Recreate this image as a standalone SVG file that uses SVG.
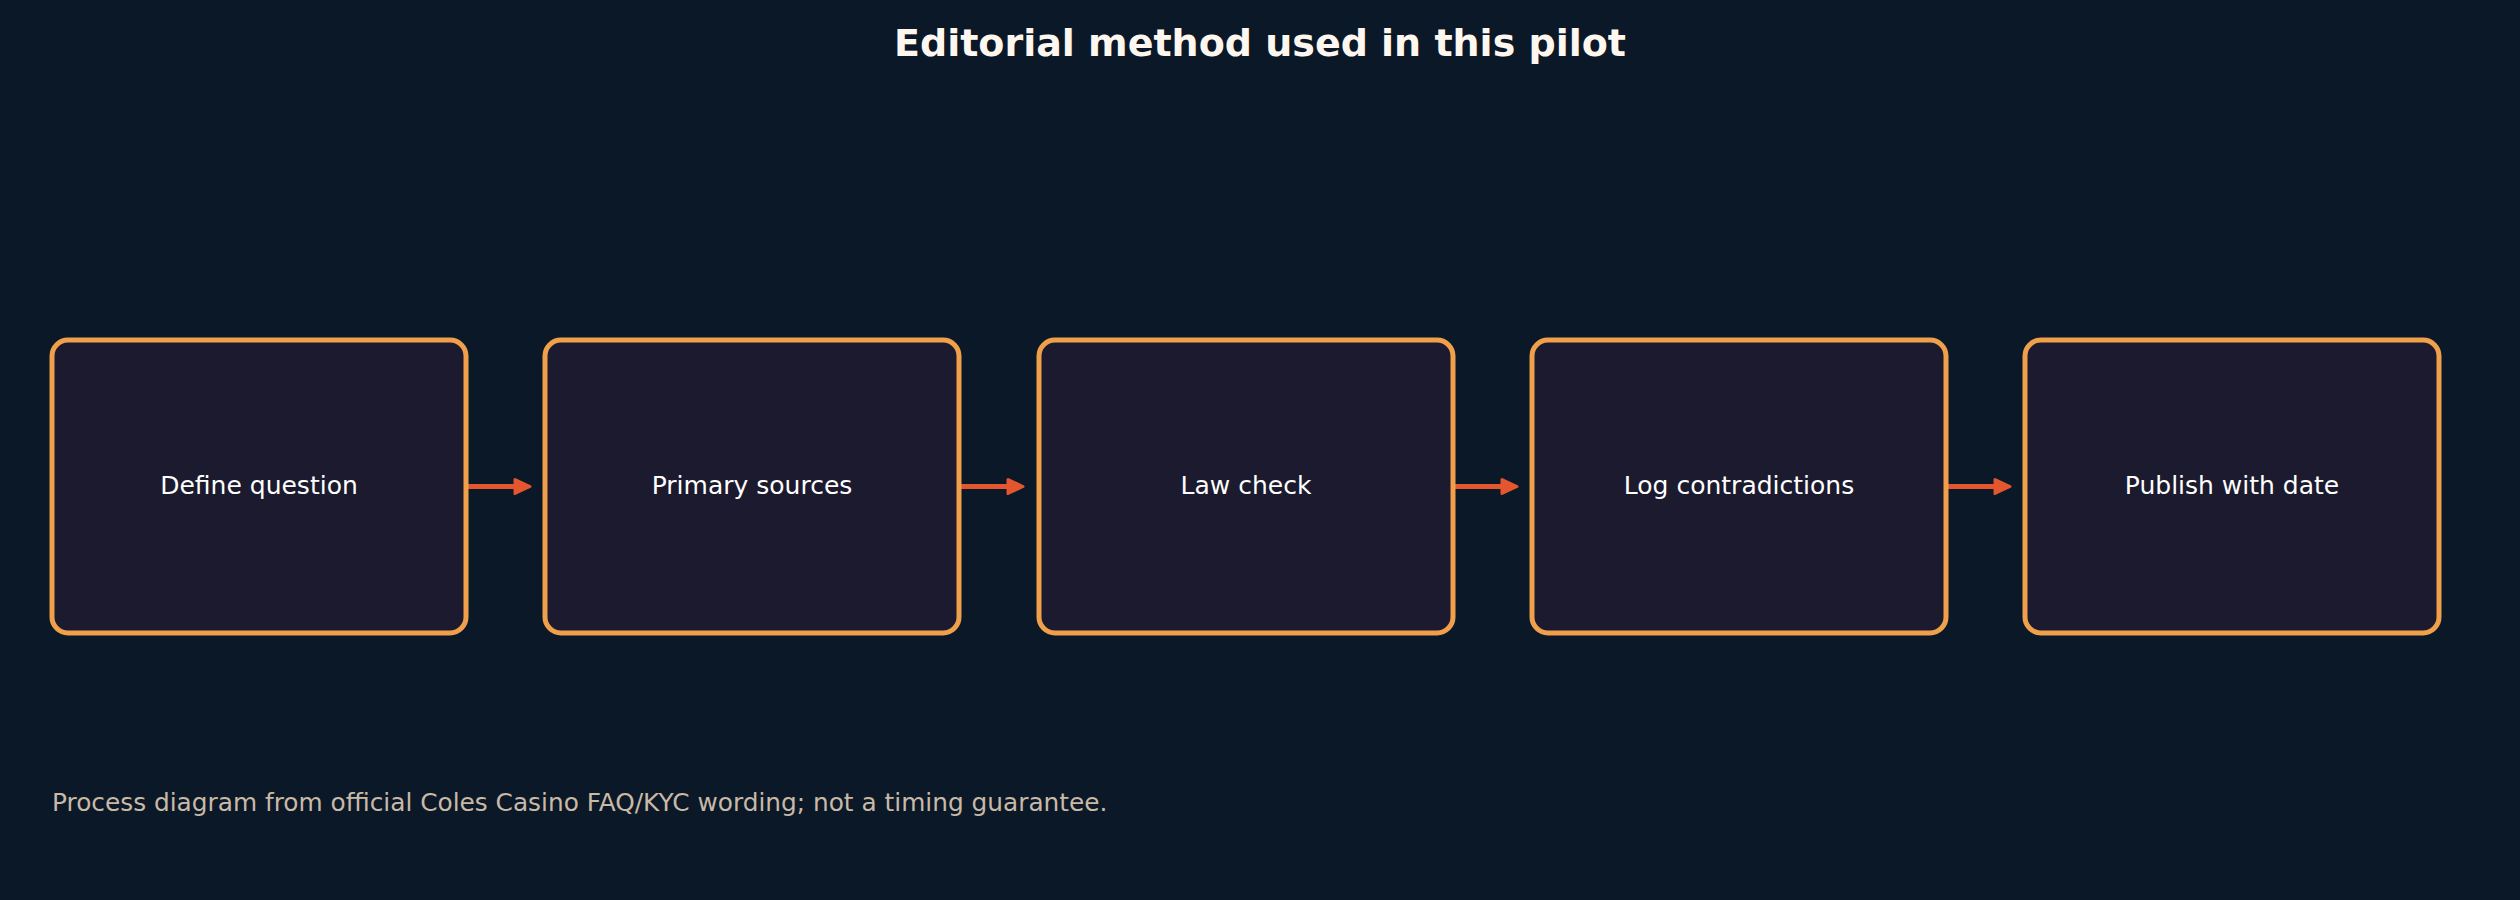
<svg xmlns="http://www.w3.org/2000/svg" width="2520" height="900" viewBox="0 0 2520 900">
<defs>
<style>
.bg{fill:#0b1828}
.box{fill:#1c1a2e;stroke:#f0a04b;stroke-width:5}
.lbl{font-family:"DejaVu Sans",sans-serif;font-size:25px;fill:#ffffff;text-anchor:middle}
.title{font-family:"DejaVu Sans",sans-serif;font-weight:bold;font-size:38px;fill:#fdf7ef;text-anchor:middle}
.note{font-family:"DejaVu Sans",sans-serif;font-size:24.8px;fill:#c9b9a7}
.conn{stroke:#e4572e;stroke-width:5;fill:none}
</style>
<marker id="ah" viewBox="-3 -10 22 20" refX="5" refY="0" markerWidth="22" markerHeight="20" markerUnits="userSpaceOnUse" orient="auto">
<path d="M0,-7 L15,0 L0,7 Z" fill="#e4572e" stroke="#e4572e" stroke-width="3" stroke-linejoin="round"/>
</marker>
</defs>
<rect class="bg" x="0" y="0" width="2520" height="900"/>
<text class="title" x="1260" y="56">Editorial method used in this pilot</text>
<g id="connectors">
<line class="conn" x1="466" y1="486.5" x2="520" y2="486.5" marker-end="url(#ah)"/>
<line class="conn" x1="959" y1="486.5" x2="1013" y2="486.5" marker-end="url(#ah)"/>
<line class="conn" x1="1453" y1="486.5" x2="1507" y2="486.5" marker-end="url(#ah)"/>
<line class="conn" x1="1946" y1="486.5" x2="2000" y2="486.5" marker-end="url(#ah)"/>
</g>
<g id="n1"><rect class="box" x="52" y="340" width="414" height="293" rx="16"/><text class="lbl" x="259" y="494">Define question</text></g>
<g id="n2"><rect class="box" x="545" y="340" width="414" height="293" rx="16"/><text class="lbl" x="752" y="494">Primary sources</text></g>
<g id="n3"><rect class="box" x="1039" y="340" width="414" height="293" rx="16"/><text class="lbl" x="1246" y="494">Law check</text></g>
<g id="n4"><rect class="box" x="1532" y="340" width="414" height="293" rx="16"/><text class="lbl" x="1739" y="494">Log contradictions</text></g>
<g id="n5"><rect class="box" x="2025" y="340" width="414" height="293" rx="16"/><text class="lbl" x="2232" y="494">Publish with date</text></g>
<text class="note" x="52" y="811">Process diagram from official Coles Casino FAQ/KYC wording; not a timing guarantee.</text>
</svg>
